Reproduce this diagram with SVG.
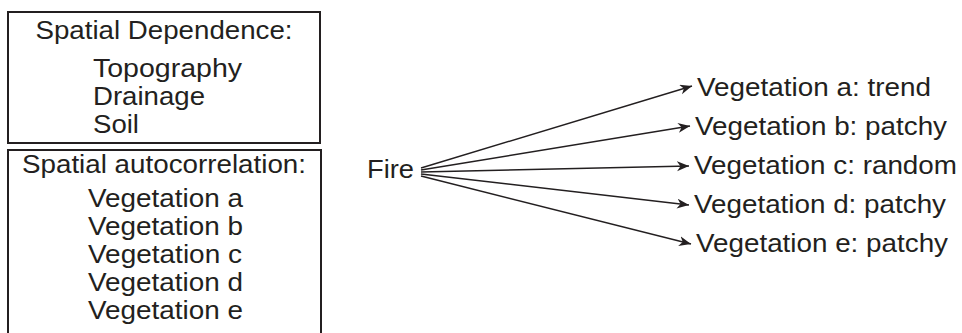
<svg xmlns="http://www.w3.org/2000/svg" width="962" height="333" viewBox="0 0 962 333">
<style>
text{font-family:"Liberation Sans",Arial,sans-serif;font-size:25.5px;fill:#231f20}
.box{fill:none;stroke:#231f20;stroke-width:2}
.c{stroke:#231f20;stroke-width:1.4;fill:none;marker-end:url(#ah)}
</style>
<defs>
<marker id="ah" markerUnits="userSpaceOnUse" markerWidth="16" markerHeight="12" refX="12" refY="5" orient="auto">
<path d="M0,0 L12,5 L0,10 L3.5,5 z" fill="#231f20"/>
</marker>
</defs>
<rect width="962" height="333" fill="#fff"/>
<g id="spatial-dependence">
<rect class="box" x="8" y="12" width="312" height="131"/>
<text x="164" y="39" text-anchor="middle" textLength="257" lengthAdjust="spacingAndGlyphs">Spatial Dependence:</text>
<text x="93" y="77" textLength="149" lengthAdjust="spacingAndGlyphs">Topography</text>
<text x="93" y="105" textLength="112" lengthAdjust="spacingAndGlyphs">Drainage</text>
<text x="93" y="133" textLength="46" lengthAdjust="spacingAndGlyphs">Soil</text>
</g>
<g id="spatial-autocorrelation">
<path class="box" d="M8,340 V150 H321 V340"/>
<text x="164" y="173" text-anchor="middle" textLength="284" lengthAdjust="spacingAndGlyphs">Spatial autocorrelation:</text>
<text x="88" y="207" textLength="155" lengthAdjust="spacingAndGlyphs">Vegetation a</text>
<text x="88" y="235" textLength="155" lengthAdjust="spacingAndGlyphs">Vegetation b</text>
<text x="88" y="263" textLength="154" lengthAdjust="spacingAndGlyphs">Vegetation c</text>
<text x="88" y="291" textLength="155" lengthAdjust="spacingAndGlyphs">Vegetation d</text>
<text x="88" y="319" textLength="155" lengthAdjust="spacingAndGlyphs">Vegetation e</text>
</g>
<g id="fire">
<text x="367" y="178" textLength="47" lengthAdjust="spacingAndGlyphs">Fire</text>
</g>
<g id="veg-a"><text x="697" y="96" textLength="234" lengthAdjust="spacingAndGlyphs">Vegetation a: trend</text></g>
<g id="veg-b"><text x="695" y="135" textLength="252" lengthAdjust="spacingAndGlyphs">Vegetation b: patchy</text></g>
<g id="veg-c"><text x="694" y="174" textLength="263" lengthAdjust="spacingAndGlyphs">Vegetation c: random</text></g>
<g id="veg-d"><text x="694" y="213" textLength="252" lengthAdjust="spacingAndGlyphs">Vegetation d: patchy</text></g>
<g id="veg-e"><text x="696" y="252" textLength="252" lengthAdjust="spacingAndGlyphs">Vegetation e: patchy</text></g>
<g id="connectors">
<line class="c" x1="421" y1="168" x2="692" y2="86"/>
<line class="c" x1="421" y1="170" x2="690" y2="126"/>
<line class="c" x1="421" y1="172" x2="689" y2="166"/>
<line class="c" x1="421" y1="174" x2="689" y2="205"/>
<line class="c" x1="421" y1="176" x2="691" y2="244"/>
</g>
</svg>
